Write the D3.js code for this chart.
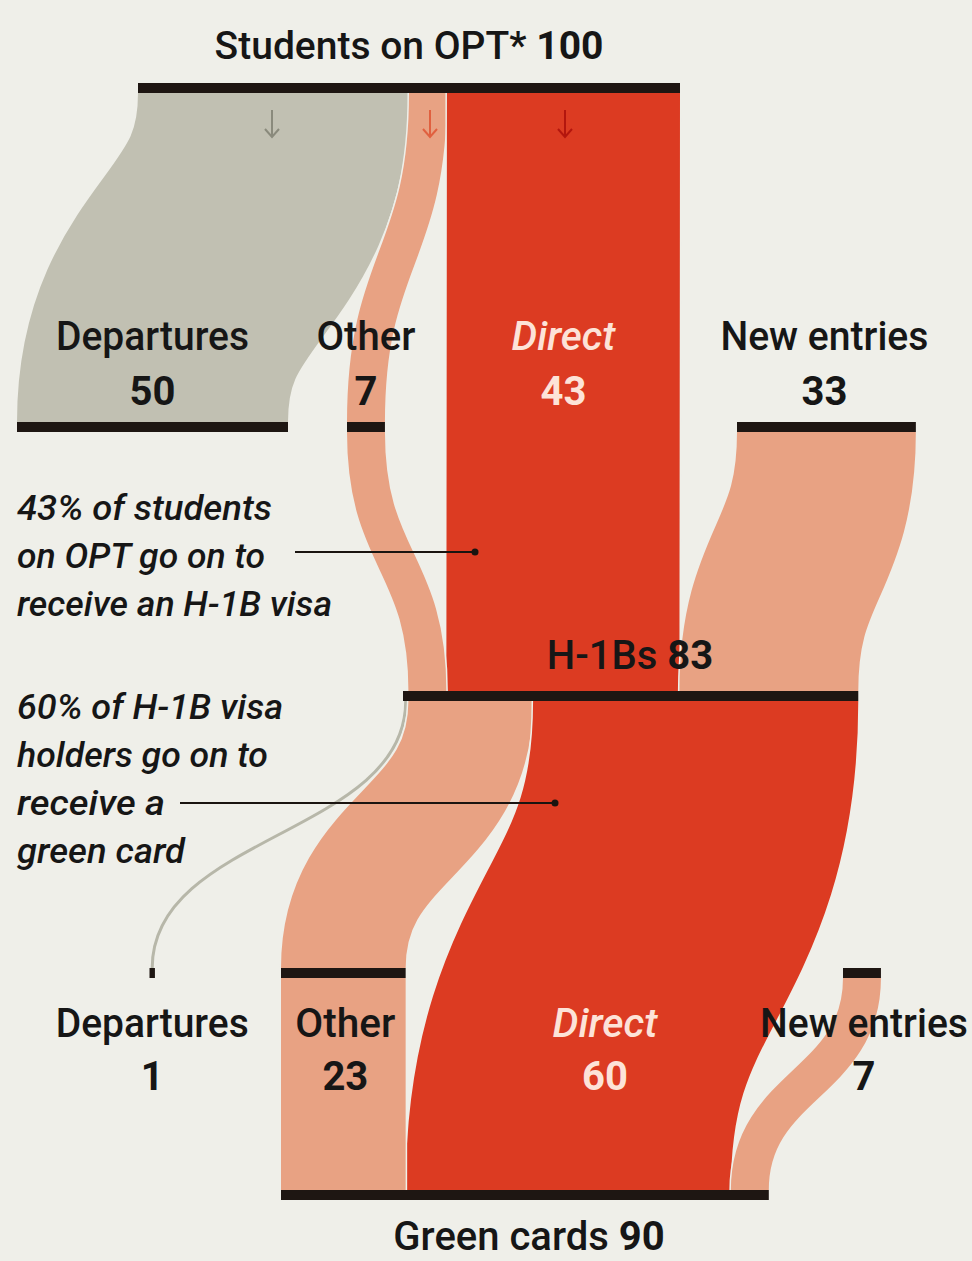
<!DOCTYPE html>
<html>
<head>
<meta charset="utf-8">
<script src="https://cdn.jsdelivr.net/npm/d3@7"></script>
<style>
  html, body { margin: 0; padding: 0; background: #efefe9; }
  svg { display: block; }
  text { font-family: Roboto, "Noto Sans", sans-serif; }
</style>
</head>
<body>
<svg id="chart" width="972" height="1261"></svg>
<script>
// ---------------- DATA ----------------
const stageTotalNames  = ["Students on OPT*", "H-1Bs", "Green cards"];
const stageTotalValues = [100, 83, 90];

const stage1Categories = ["Departures", "Other", "Direct", "New entries"];
const stage1Values     = [50, 7, 43, 33];

const stage2Categories = ["Departures", "Other", "Direct", "New entries"];
const stage2Values     = [1, 23, 60, 7];

// flows: source node -> target node
const linkSources = ["opt", "opt",  "opt", "oth1", "new1", "h1b",  "h1b",  "h1b",   "oth2",  "new2"];
const linkTargets = ["dep1", "oth1", "h1b", "h1b",  "h1b",  "dep2", "oth2", "green", "green", "green"];
const linkValues  = [50,     7,      43,    7,      33,     1,      23,     60,      23,      7];
const linkKinds   = ["departure", "other", "direct", "other", "new", "departure", "other", "direct", "other", "new"];

const annotation1Lines = ["43% of students", "on OPT go on to", "receive an H-1B visa"];
const annotation2Lines = ["60% of H-1B visa", "holders go on to", "receive a", "green card"];

// ---------------- LAYOUT / STYLE ----------------
const svg = d3.select("#chart");
const x = d3.scaleLinear().domain([0, 100]).range([0, 542]);
const barH = 10;
const kindOrder = ["departure", "other", "direct", "new"];

const nodeLayout = {
  opt:   { x0: 138,   y0: 83 },
  dep1:  { x0: 17,    y0: 422 },
  oth1:  { x0: 347,   y0: 422 },
  new1:  { x0: 737,   y0: 422 },
  h1b:   { x0: 403,   y0: 691 },
  dep2:  { x0: 149.5, y0: 968 },
  oth2:  { x0: 281,   y0: 968 },
  new2:  { x0: 843,   y0: 968 },
  green: { x0: 281,   y0: 1190 }
};

const colors = {
  bg: "#efefe9",
  departure: "#c1c0b2",
  other: "#e8a283",
  direct: "#dc3b22",
  new: "#e8a283",
  bar: "#1e1612",
  text: "#161616",
  directText: "#fde3d8"
};

// build nodes
const nodes = {};
Object.keys(nodeLayout).forEach(k => {
  nodes[k] = { id: k, x0: nodeLayout[k].x0, y0: nodeLayout[k].y0, inSum: 0, outSum: 0, ins: [], outs: [] };
});
const links = linkValues.map((v, i) => ({
  source: nodes[linkSources[i]], target: nodes[linkTargets[i]], value: v, kind: linkKinds[i]
}));
links.forEach(l => {
  l.source.outSum += l.value; l.target.inSum += l.value;
  l.source.outs.push(l); l.target.ins.push(l);
});
const byKind = (a, b) => kindOrder.indexOf(a.kind) - kindOrder.indexOf(b.kind);
Object.values(nodes).forEach(n => {
  n.x1 = n.x0 + x(Math.max(n.inSum, n.outSum));
  n.y1 = n.y0 + barH;
  let oc = n.x0;                       // outflows left-aligned
  n.outs.sort(byKind).forEach(l => { l.w = x(l.value); l.sx = oc + l.w / 2; oc += l.w; l.sy = n.y1; });
  let ic = n.x1 - x(n.inSum);          // inflows right-aligned
  n.ins.sort(byKind).forEach(l => { const w = x(l.value); l.tx = ic + w / 2; ic += w; l.ty = n.y0; });
});

const linkGen = d3.linkVertical().x(d => d[0]).y(d => d[1]);

// ---------------- LINKS ----------------
const gLinks = svg.append("g");
links.forEach(l => {
  const d = linkGen({ source: [l.sx, l.sy], target: [l.tx, l.ty] });
  if (l.kind === "departure" && l.value < 5) {
    gLinks.append("path").attr("d", d).attr("fill", "none")
      .attr("stroke", "#b7b7a9").attr("stroke-width", 3);
    return;
  }
  gLinks.append("path").attr("d", d).attr("fill", "none")
    .attr("stroke", colors.bg).attr("stroke-width", l.w + 3);
  gLinks.append("path").attr("d", d).attr("fill", "none")
    .attr("stroke", colors[l.kind]).attr("stroke-width", l.w);
});

// ---------------- BARS ----------------
svg.append("g").selectAll("rect")
  .data(Object.values(nodes))
  .join("rect")
  .attr("x", d => d.x0).attr("y", d => d.y0)
  .attr("width", d => d.x1 - d.x0).attr("height", barH)
  .attr("fill", colors.bar);

// ---------------- ARROWS ----------------
const arrowColors = { departure: "#8a8a7c", other: "#e0603f", direct: "#b3160e" };
const arrowX = { departure: 272, other: 430, direct: 565 };
nodes.opt.outs.forEach(l => {
  const cx = arrowX[l.kind];
  svg.append("path")
    .attr("d", `M${cx},110 L${cx},137 M${cx - 7},129 L${cx},137 L${cx + 7},129`)
    .attr("fill", "none").attr("stroke", arrowColors[l.kind]).attr("stroke-width", 2);
});

// ---------------- LABELS ----------------
function label(cx, y, name, value, opts = {}) {
  const t = svg.append("text")
    .attr("x", cx).attr("y", y).attr("text-anchor", "middle")
    .attr("font-size", 40).attr("font-weight", 500)
    .attr("fill", opts.color || colors.text);
  if (opts.italic) t.attr("font-style", "italic");
  if (opts.len) t.attr("textLength", opts.len).attr("lengthAdjust", "spacingAndGlyphs");
  t.text(name);
  svg.append("text")
    .attr("x", cx).attr("y", opts.valueY).attr("text-anchor", "middle")
    .attr("font-size", 40).attr("font-weight", 700)
    .attr("fill", opts.color || colors.text)
    .text(value);
}
function totalLabel(cx, y, name, value, size) {
  const t = svg.append("text")
    .attr("x", cx).attr("y", y).attr("text-anchor", "middle")
    .attr("font-size", size).attr("font-weight", 500).attr("fill", colors.text);
  t.append("tspan").text(name + " ");
  t.append("tspan").attr("font-weight", 700).text(value);
}

// totals
totalLabel(409, 59, stageTotalNames[0], stageTotalValues[0], 39);
totalLabel(630, 669, stageTotalNames[1], stageTotalValues[1], 40);
totalLabel(529, 1250, stageTotalNames[2], stageTotalValues[2], 40);

// stage 1 labels
const s1Centers = [
  (nodes.dep1.x0 + nodes.dep1.x1) / 2,
  (nodes.oth1.x0 + nodes.oth1.x1) / 2,
  nodes.opt.outs.find(l => l.kind === "direct").sx,
  (nodes.new1.x0 + nodes.new1.x1) / 2 - 2
];
const s1Lens = [193, 99, 104, 208];
stage1Categories.forEach((c, i) => {
  const isDirect = c === "Direct";
  label(s1Centers[i], 350, c, stage1Values[i], {
    valueY: 405, len: s1Lens[i], italic: isDirect,
    color: isDirect ? colors.directText : colors.text
  });
});

// stage 2 labels
const s2Centers = [
  (nodes.dep2.x0 + nodes.dep2.x1) / 2,
  (nodes.oth2.x0 + nodes.oth2.x1) / 2 + 2,
  605,
  (nodes.new2.x0 + nodes.new2.x1) / 2 + 2
];
const s2Lens = [193, 100, 105, 208];
stage2Categories.forEach((c, i) => {
  const isDirect = c === "Direct";
  label(s2Centers[i], 1037, c, stage2Values[i], {
    valueY: 1090, len: s2Lens[i], italic: isDirect,
    color: isDirect ? colors.directText : colors.text
  });
});

// ---------------- ANNOTATIONS ----------------
function annotation(lines, y0, lens, pointer) {
  lines.forEach((ln, i) => {
    svg.append("text")
      .attr("x", 17).attr("y", y0 + i * 48)
      .attr("font-size", 35).attr("font-style", "italic").attr("font-weight", 500)
      .attr("fill", colors.text)
      .attr("textLength", lens[i]).attr("lengthAdjust", "spacingAndGlyphs")
      .text(ln);
  });
  svg.append("line")
    .attr("x1", pointer.x1).attr("x2", pointer.x2)
    .attr("y1", pointer.y).attr("y2", pointer.y)
    .attr("stroke", "#1a1410").attr("stroke-width", 2);
  svg.append("circle").attr("cx", pointer.x2).attr("cy", pointer.y)
    .attr("r", 3.5).attr("fill", "#1a1410");
}
annotation(annotation1Lines, 520, [255, 248, 315], { x1: 295, x2: 475, y: 552 });
annotation(annotation2Lines, 719, [266, 251, 148, 168], { x1: 180, x2: 555, y: 803 });
</script>
</body>
</html>
